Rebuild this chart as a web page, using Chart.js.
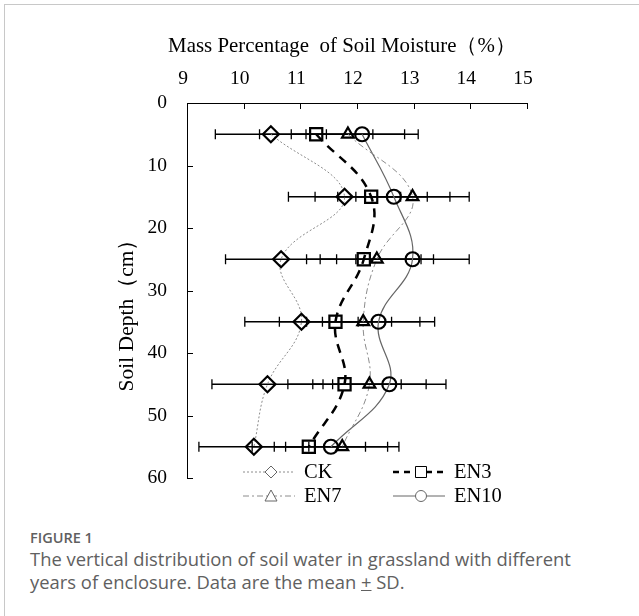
<!DOCTYPE html>
<html>
<head>
<meta charset="utf-8">
<script src="https://cdn.jsdelivr.net/npm/chart.js@4.4.0/dist/chart.umd.min.js"></script>
<style>
  body { margin: 0; background: #fff; width: 639px; height: 616px; overflow: hidden; position: relative; }
  #frame { position: absolute; left: 4px; top: 4px; width: 700px; height: 700px;
           border-left: 1px solid #c8c8c8; border-top: 1px solid #c8c8c8; }
  #wrap { position: absolute; left: 0; top: 0; width: 639px; height: 520px; }
  #caption { position: absolute; left: 30px; top: 529px; font-family: "Open Sans", sans-serif; color: #606060; }
  #caption .fig { font-size: 14.5px; font-weight: 600; line-height: 18px; }
  #caption .txt { font-size: 18.4px; line-height: 23px; font-weight: 400; white-space: nowrap; }
</style>
</head>
<body>
<div id="frame"></div>
<div id="wrap"><canvas id="myChart" width="639" height="520"></canvas></div>
<div id="caption">
  <div class="fig">FIGURE 1</div>
  <div class="txt">The vertical distribution of soil water in grassland with different<br>years of enclosure. Data are the mean <u>+</u> SD.</div>
</div>
<script>
// data
const depths = [5, 15, 25, 35, 45, 55];
const seriesNames = ['CK', 'EN3', 'EN7', 'EN10'];
const ckMean = [10.48, 11.78, 10.66, 11.02, 10.42, 10.18];
const en3Mean = [11.28, 12.25, 12.12, 11.62, 11.78, 11.15];
const en7Mean = [11.84, 12.98, 12.35, 12.11, 12.22, 11.74];
const en10Mean = [12.09, 12.65, 12.98, 12.38, 12.57, 11.54];
const ckSd = [0.98, 0.99, 0.98, 1.0, 0.98, 0.97];
const en3Sd = [1.0, 0.99, 1.01, 0.99, 1.0, 1.0];
const en7Sd = [1.0, 1.0, 1.0, 1.0, 1.0, 1.0];
const en10Sd = [0.99, 0.99, 1.0, 0.99, 1.0, 1.0];
const xTicks = [9, 10, 11, 12, 13, 14, 15];
const yTicks = [0, 10, 20, 30, 40, 50, 60];

const means = [ckMean, en3Mean, en7Mean, en10Mean];
const sds = [ckSd, en3Sd, en7Sd, en10Sd];
const serif = '"Liberation Serif", "Times New Roman", serif';

// line + marker look for each series
const looks = [
  { color: '#8c8c8c', width: 1, dash: [2, 2], marker: 'rectRot', radius: 8 },
  { color: '#000', width: 2.5, dash: [9, 7], marker: 'rect', radius: 8.6 },
  { color: '#8c8c8c', width: 1, dash: [6, 3, 2, 3], marker: 'triangle', radius: 6.8 },
  { color: '#666', width: 1.2, dash: [], marker: 'circle', radius: 7 }
];

const datasets = seriesNames.map((name, k) => ({
  label: name,
  data: depths.map((d, i) => ({ x: means[k][i], y: d })),
  showLine: true,
  tension: 0.4,
  borderColor: looks[k].color,
  borderWidth: looks[k].width,
  borderDash: looks[k].dash,
  pointStyle: looks[k].marker,
  pointRadius: looks[k].radius,
  pointBorderColor: '#000',
  pointBorderWidth: 2.2,
  pointBackgroundColor: 'rgba(0,0,0,0)'
}));

// horizontal SD bars
const errorBars = {
  id: 'errorBars',
  beforeDatasetsDraw(chart) {
    const { ctx, scales: { x, y } } = chart;
    ctx.save();
    ctx.strokeStyle = '#000';
    ctx.lineWidth = 1.3;
    means.forEach((m, k) => {
      depths.forEach((d, i) => {
        const py = y.getPixelForValue(d);
        const xl = x.getPixelForValue(m[i] - sds[k][i]);
        const xr = x.getPixelForValue(m[i] + sds[k][i]);
        ctx.beginPath();
        ctx.moveTo(xl, py); ctx.lineTo(xr, py);
        ctx.moveTo(xl, py - 5); ctx.lineTo(xl, py + 5);
        ctx.moveTo(xr, py - 5); ctx.lineTo(xr, py + 5);
        ctx.stroke();
      });
    });
    ctx.restore();
  }
};

function legendMarker(ctx, kind, x, y) {
  ctx.beginPath();
  if (kind === 'rectRot') {
    ctx.moveTo(x, y - 6); ctx.lineTo(x + 6, y); ctx.lineTo(x, y + 6); ctx.lineTo(x - 6, y); ctx.closePath();
  } else if (kind === 'rect') {
    ctx.rect(x - 5.5, y - 5.5, 11, 11);
  } else if (kind === 'triangle') {
    ctx.moveTo(x, y - 6); ctx.lineTo(x + 6, y + 5); ctx.lineTo(x - 6, y + 5); ctx.closePath();
  } else {
    ctx.arc(x, y, 5.5, 0, Math.PI * 2);
  }
  ctx.fillStyle = '#fff';
  ctx.fill();
  ctx.stroke();
}

// inward ticks, axis titles and the legend
const extras = {
  id: 'extras',
  afterDraw(chart) {
    const { ctx, chartArea: a, scales: { x, y } } = chart;
    ctx.save();
    ctx.strokeStyle = '#000';
    ctx.lineWidth = 1;
    ctx.beginPath();
    xTicks.forEach(v => {
      const px = Math.round(x.getPixelForValue(v)) + 0.5;
      ctx.moveTo(px, a.top); ctx.lineTo(px, a.top + 6);
    });
    yTicks.forEach(v => {
      const py = Math.round(y.getPixelForValue(v)) + 0.5;
      ctx.moveTo(a.left, py); ctx.lineTo(a.left + 6, py);
    });
    ctx.stroke();

    ctx.fillStyle = '#000';
    ctx.font = '20.9px ' + serif;
    ctx.textAlign = 'center';
    ctx.textBaseline = 'middle';
    ctx.fillText('Mass Percentage  of Soil Moisture（%）', 342, 47);
    ctx.save();
    ctx.translate(127, 310);
    ctx.rotate(-Math.PI / 2);
    ctx.font = '21.5px ' + serif;
    ctx.fillText('Soil Depth（cm）', 0, 0);
    ctx.restore();

    // legend, two columns by two rows
    const cols = [243, 393];
    const rows = [472, 496];
    seriesNames.forEach((name, k) => {
      const lx = cols[k % 2];
      const ly = rows[Math.floor(k / 2)];
      const lk = looks[k];
      ctx.strokeStyle = lk.color;
      ctx.lineWidth = k === 1 ? 2.5 : 1;
      ctx.setLineDash(k === 1 ? [6, 5] : lk.dash);
      ctx.beginPath();
      ctx.moveTo(lx, ly); ctx.lineTo(lx + 52, ly);
      ctx.stroke();
      ctx.setLineDash([]);
      ctx.lineWidth = 1;
      ctx.strokeStyle = k === 1 ? '#000' : '#666';
      legendMarker(ctx, lk.marker, lx + 28, ly);
      ctx.fillStyle = '#000';
      ctx.font = '20.5px ' + serif;
      ctx.textAlign = 'left';
      ctx.fillText(name, lx + 61, ly + 1);
    });
    ctx.restore();
  }
};

new Chart(document.getElementById('myChart'), {
  type: 'scatter',
  data: { datasets },
  options: {
    responsive: false,
    animation: false,
    layout: { padding: { left: 112, right: 112, top: 30, bottom: 42 } },
    plugins: { legend: { display: false }, tooltip: { enabled: false } },
    scales: {
      x: {
        position: 'top',
        min: 9, max: 15,
        afterFit: s => { s.height = 73; },
        afterBuildTicks: s => { s.ticks = xTicks.map(v => ({ value: v })); },
        grid: { display: false, drawTicks: false },
        border: { display: true, color: '#000', width: 1 },
        ticks: { padding: 12, labelOffset: -4, color: '#000', font: { family: serif, size: 19.5 } }
      },
      y: {
        reverse: true,
        min: 0, max: 60,
        afterFit: s => { s.width = 75; },
        afterBuildTicks: s => { s.ticks = yTicks.map(v => ({ value: v })); },
        grid: { display: false, drawTicks: false },
        border: { display: true, color: '#000', width: 1 },
        ticks: { padding: 20, color: '#000', font: { family: serif, size: 19.5 } }
      }
    }
  },
  plugins: [errorBars, extras]
});
</script>
</body>
</html>
